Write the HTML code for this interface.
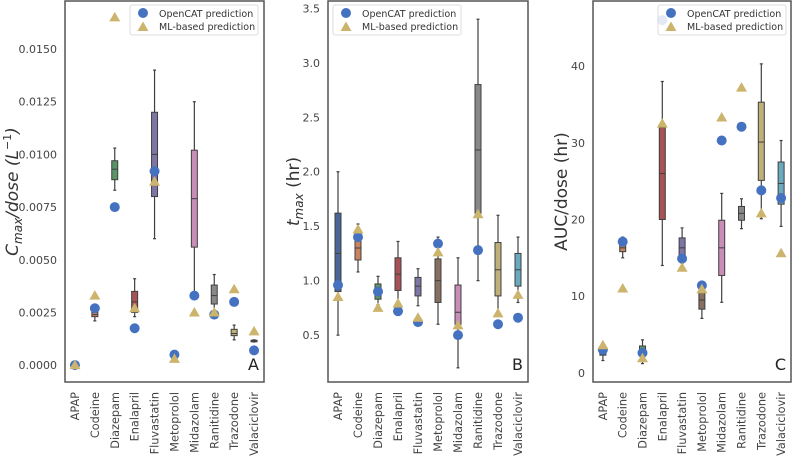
<!DOCTYPE html>
<html><head><meta charset="utf-8"><style>
body{margin:0;background:#fff;width:792px;height:459px;overflow:hidden}
svg{display:block;font-family:"DejaVu Sans","Liberation Sans",sans-serif}
</style></head><body>
<svg id="chart" width="792" height="459"></svg>
<script>
const categories=["APAP","Codeine","Diazepam","Enalapril","Fluvastatin","Metoprolol","Midazolam","Ranitidine","Trazodone","Valaciclovir"];
const boxColors=["#4a6699","#c9825e","#5a9468","#a85256","#7f74a6","#877060","#c98eb8","#888888","#bfb07a","#6aaabf"];
// Panel A: Cmax/dose
const aWhiskLo=[0,0.0021,0.0083,0.0023,0.0060,0.0004,0.0033,0.0025,0.0012,0.00110];
const aQ1=[-0.00003,0.0023,0.0088,0.0025,0.0080,0.00045,0.0056,0.0029,0.0014,0.00112];
const aMed=[0,0.0024,0.0093,0.0030,0.0100,0.0005,0.0079,0.0033,0.0015,0.00115];
const aQ3=[0.00003,0.0025,0.0097,0.0035,0.0120,0.00055,0.0102,0.0038,0.0017,0.00118];
const aWhiskHi=[0,0.0026,0.0103,0.0041,0.0140,0.0006,0.0125,0.0043,0.0019,0.00120];
const aOpenCAT=[0,0.0027,0.0075,0.00175,0.0092,0.0005,0.0033,0.0024,0.0030,0.0007];
const aML=[0,0.0033,0.0165,0.0027,0.0087,0.0003,0.0025,0.0025,0.0036,0.0016];
const aTicks=[0,0.0025,0.005,0.0075,0.01,0.0125,0.015];
const aTickLabels=["0.0000","0.0025","0.0050","0.0075","0.0100","0.0125","0.0150"];
// Panel B: tmax
const bWhiskLo=[0.5,1.08,0.78,0.73,0.77,0.60,0.20,1.00,0.70,0.80];
const bQ1=[0.90,1.19,0.83,0.91,0.86,0.80,0.60,1.62,0.86,0.95];
const bMed=[1.25,1.30,0.90,1.06,0.95,1.00,0.71,2.20,1.10,1.10];
const bQ3=[1.62,1.40,0.97,1.21,1.03,1.20,0.96,2.80,1.35,1.25];
const bWhiskHi=[2.0,1.52,1.04,1.36,1.11,1.40,1.21,3.40,1.60,1.40];
const bOpenCAT=[0.96,1.40,0.90,0.72,0.62,1.34,0.50,1.28,0.60,0.66];
const bML=[0.85,1.47,0.75,0.79,0.66,1.26,0.59,1.61,0.70,0.87];
const bTicks=[0.5,1.0,1.5,2.0,2.5,3.0,3.5];
const bTickLabels=["0.5","1.0","1.5","2.0","2.5","3.0","3.5"];
// Panel C: AUC/dose
const cWhiskLo=[1.6,15.0,1.2,14.0,14.3,7.1,9.2,18.8,20.1,19.1];
const cQ1=[2.3,15.8,2.3,20.0,14.9,8.3,12.7,19.9,25.1,22.0];
const cMed=[2.8,16.3,3.0,26.0,16.3,9.5,16.3,20.8,30.1,24.7];
const cQ3=[3.3,16.8,3.5,32.0,17.6,10.7,19.9,21.7,35.3,27.5];
const cWhiskHi=[3.6,17.7,4.3,38.0,18.9,11.5,23.4,22.7,40.3,30.3];
const cOpenCAT=[3.0,17.1,2.6,46.0,14.9,11.4,30.3,32.1,23.8,22.8];
const cML=[3.6,11.0,1.9,32.5,13.7,10.9,33.3,37.2,20.8,15.6];
const cTicks=[0,10,20,30,40];
const cTickLabels=["0","10","20","30","40"];

const NS="http://www.w3.org/2000/svg";
const svg=document.getElementById('chart');
function mk(tag,attrs,parent,text){const e=document.createElementNS(NS,tag);for(const k in attrs)e.setAttribute(k,attrs[k]);if(text!==undefined)e.textContent=text;(parent||svg).appendChild(e);return e;}

function panel(cfg){
  const {id,x0,x1,y0,y1,vmin,vmax,wlo,q1,med,q3,whi,oc,ml,ticks,tickLabels,ylabel,letter,legX}=cfg;
  const g=mk('g',{});
  
  
  const yS=v=>y1-(v-vmin)/(vmax-vmin)*(y1-y0);
  const step=(x1-x0)/categories.length;
  const xS=i=>x0+step*(i+0.5);
  ticks.forEach((t,i)=>{
    const tl=mk('text',{x:x0-8,y:yS(t)+4,'text-anchor':'end','font-size':'11',fill:'#444'},g,tickLabels[i]);
    
    
  });
  categories.forEach((c,i)=>{
    const bx=mk('g',{},g);
    
    
    const cx=xS(i),w=6,cw=3;
    mk('line',{x1:cx,x2:cx,y1:yS(whi[i]),y2:yS(wlo[i]),stroke:'#3f3f3f','stroke-width':1.2},bx);
    mk('line',{x1:cx-cw/2,x2:cx+cw/2,y1:yS(whi[i]),y2:yS(whi[i]),stroke:'#3f3f3f','stroke-width':1.2},bx);
    mk('line',{x1:cx-cw/2,x2:cx+cw/2,y1:yS(wlo[i]),y2:yS(wlo[i]),stroke:'#3f3f3f','stroke-width':1.2},bx);
    const top=yS(q3[i]),bot=yS(q1[i]);
    mk('rect',{x:cx-w/2,y:top,width:w,height:Math.max(bot-top,1.5),fill:boxColors[i],stroke:'#3f3f3f','stroke-width':1},bx);
    mk('line',{x1:cx-w/2,x2:cx+w/2,y1:yS(med[i]),y2:yS(med[i]),stroke:'#3f3f3f','stroke-width':1},bx);
  });
  categories.forEach((c,i)=>{
    const p=mk('circle',{cx:xS(i),cy:yS(oc[i]),r:5,fill:'#4471c0'},g);
    
    
  });
  categories.forEach((c,i)=>{
    const x=xS(i),y=yS(ml[i]);
    const t=mk('polygon',{points:`${x},${y-5.5} ${x-5.5},${y+4} ${x+5.5},${y+4}`,fill:'#cdb46c'},g);
    
    
  });
  const lg=mk('g',{},g);
  
  
  mk('rect',{x:legX,y:5,width:128,height:30,fill:'rgba(255,255,255,0.85)',stroke:'#ddd','stroke-width':1,rx:2},lg);
  mk('circle',{cx:legX+13,cy:13,r:5,fill:'#4471c0'},lg);
  mk('polygon',{points:`${legX+13},${21.5} ${legX+7.5},${31} ${legX+18.5},${31}`,fill:'#cdb46c'},lg);
  const l1=mk('text',{x:legX+29,y:17,'font-size':'9.5',fill:'#333'},lg,'OpenCAT prediction');
  
  
  const l2=mk('text',{x:legX+29,y:30,'font-size':'9.5',fill:'#333'},lg,'ML-based prediction');
  
  
  const fr=mk('rect',{x:x0,y:y0,width:x1-x0,height:y1-y0,fill:'none',stroke:'#555','stroke-width':1.5},g);
  
  
  categories.forEach((c,i)=>{
    const x=xS(i)+4,y=y1+10;
    const t=mk('text',{x:x,y:y,'text-anchor':'end','font-size':'11.3',fill:'#444',transform:`rotate(-90 ${x} ${y})`},g,c);
    
    
  });
  const L=mk('text',{x:x1-5,y:y1-12,'text-anchor':'end','font-size':'16',fill:'#222'},g,letter);
  
  
  const yl=mk('text',{x:cfg.ylx,y:(y0+y1)/2,'text-anchor':'middle','font-size':'17',fill:'#333',transform:`rotate(-90 ${cfg.ylx} ${(y0+y1)/2})`},g);
  
  
  yl.innerHTML=ylabel;
}

panel({id:'a',x0:65,x1:264,y0:1,y1:382,vmin:-0.0008,vmax:0.01728,wlo:aWhiskLo,q1:aQ1,med:aMed,q3:aQ3,whi:aWhiskHi,oc:aOpenCAT,ml:aML,ticks:aTicks,tickLabels:aTickLabels,letter:'A',legX:130,ylx:18,
 ylabel:'<tspan font-style="italic">C</tspan><tspan font-style="italic" font-size="12" dy="4">max</tspan><tspan dy="-4" font-style="italic">/dose (L</tspan><tspan font-size="11" dy="-7">−1</tspan><tspan dy="7" font-style="italic">)</tspan>'});
panel({id:'b',x0:328,x1:528,y0:1,y1:382,vmin:0.07,vmax:3.567,wlo:bWhiskLo,q1:bQ1,med:bMed,q3:bQ3,whi:bWhiskHi,oc:bOpenCAT,ml:bML,ticks:bTicks,tickLabels:bTickLabels,letter:'B',legX:333,ylx:299,
 ylabel:'<tspan font-style="italic">t</tspan><tspan font-style="italic" font-size="12" dy="4">max</tspan><tspan dy="-4"> (hr)</tspan>'});
panel({id:'c',x0:593,x1:791,y0:1,y1:382,vmin:-1.2,vmax:48.5,wlo:cWhiskLo,q1:cQ1,med:cMed,q3:cQ3,whi:cWhiskHi,oc:cOpenCAT,ml:cML,ticks:cTicks,tickLabels:cTickLabels,letter:'C',legX:658,ylx:567,
 ylabel:'AUC/dose (hr)'});
</script>
</body></html>
